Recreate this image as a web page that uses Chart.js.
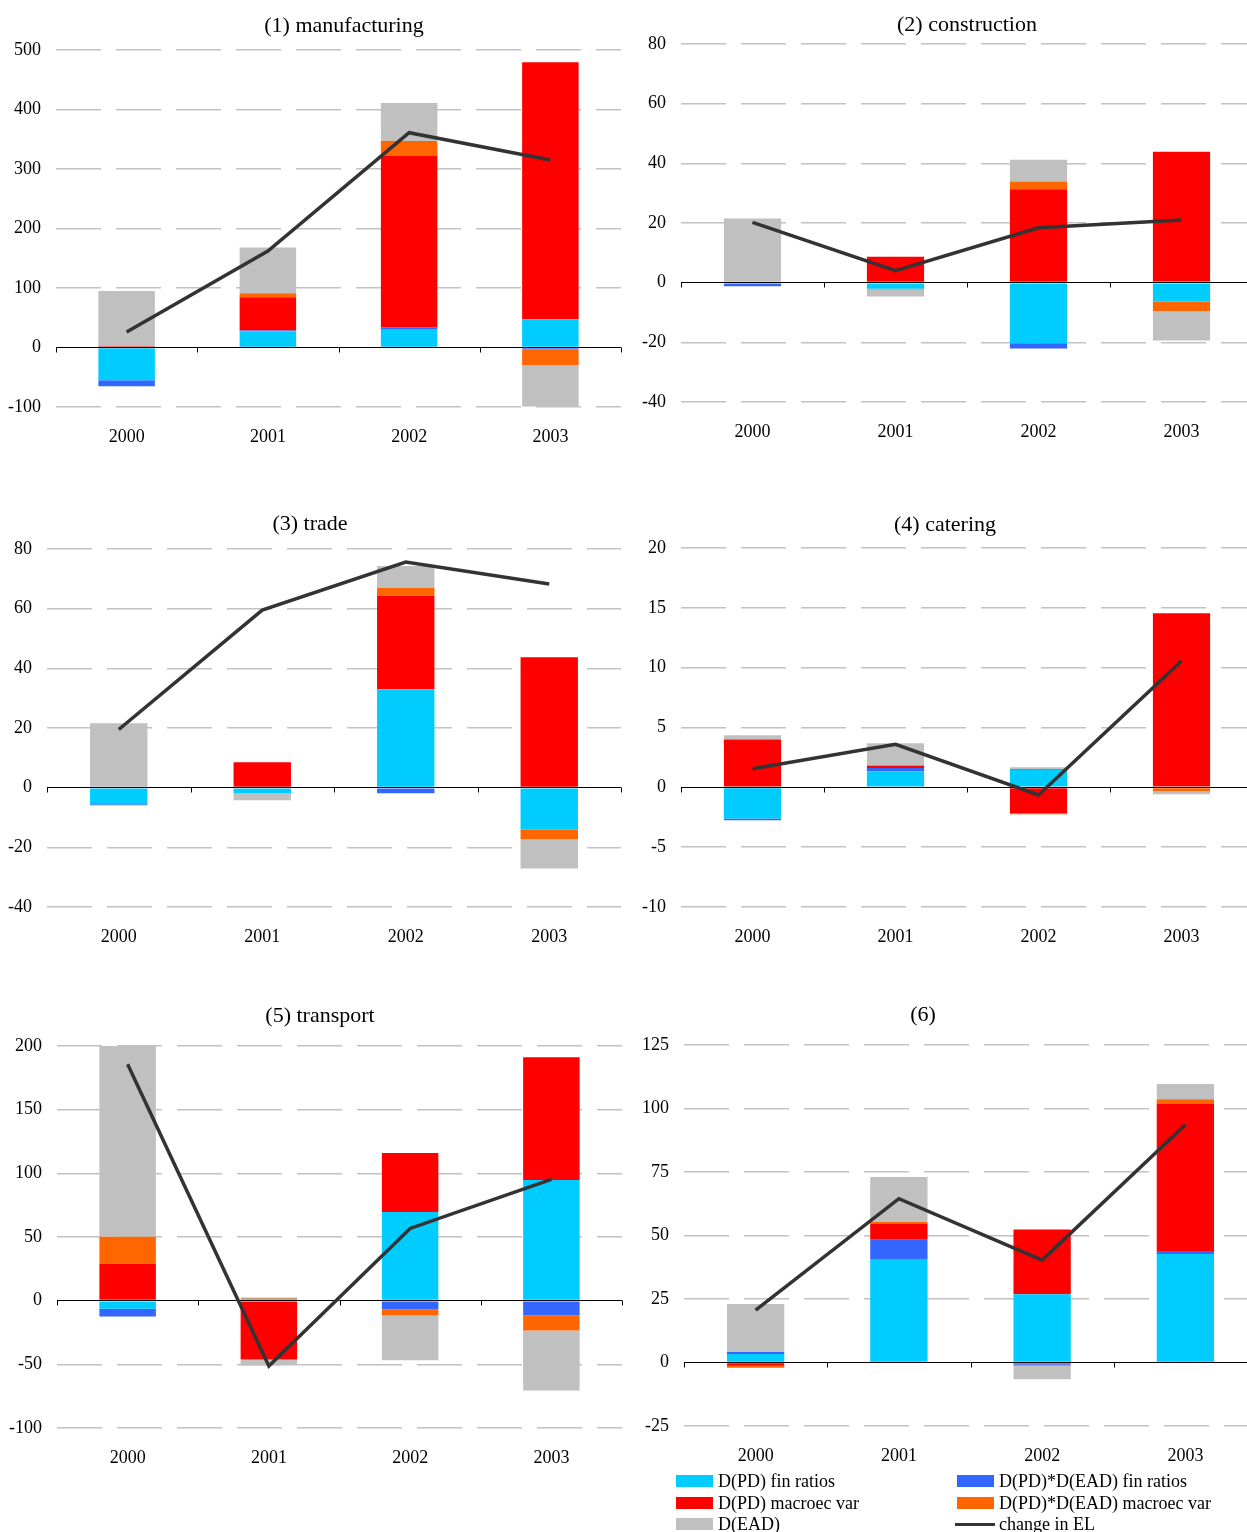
<!DOCTYPE html>
<html>
<head>
<meta charset="utf-8">
<title>Decomposition of the change in expected loss by sector</title>
<script src="https://cdn.jsdelivr.net/npm/chart.js@4.4.1/dist/chart.umd.min.js"></script>
<style>
  html, body { margin: 0; padding: 0; background: #fff; }
  body { position: relative; width: 1247px; height: 1532px; overflow: hidden;
         font-family: "Liberation Serif", "DejaVu Serif", serif; color: #000; }
  canvas { position: absolute; }
  .title { position: absolute; font-size: 22px; line-height: 1; white-space: nowrap;
           transform: translate(-50%, -50%); }
  .legend-item { position: absolute; font-size: 18px; line-height: 1; white-space: nowrap;
                 transform: translateY(-50%); }
  .swatch { position: absolute; }
</style>
</head>
<body>
<script>
// Categories and series
const years = ['2000', '2001', '2002', '2003'];
const seriesNames = ['D(PD) fin ratios', 'D(PD)*D(EAD) fin ratios', 'D(PD) macroec var',
                     'D(PD)*D(EAD) macroec var', 'D(EAD)'];
const lineName = 'change in EL';

// (1) manufacturing
const mfgFinPD   = [-55, 27.5, 31, 47.6];
const mfgFinX    = [-10, 1, 3, -3];
const mfgMacroPD = [2, 56, 288, 432];
const mfgMacroX  = [0, 6.5, 25, -27];
const mfgEAD     = [93, 77, 64, -69];
const mfgEL      = [26, 162, 361, 315];

// (2) construction
const conFinPD   = [-0.3, -2, -20.3, -6.3];
const conFinX    = [-0.9, 0, -1.8, 0.6];
const conMacroPD = [0.3, 8.7, 31.3, 43.3];
const conMacroX  = [0, -0.3, 2.6, -3.3];
const conEAD     = [21.2, -2.3, 7.3, -9.8];
const conEL      = [20.2, 4.0, 18.4, 21];

// (3) trade
const trdFinPD   = [-5.6, -1.9, 33, -14.1];
const trdFinX    = [-0.3, 0, -1.9, 0];
const trdMacroPD = [0.3, 8.5, 31.3, 43.7];
const trdMacroX  = [0, 0, 2.7, -3.2];
const trdEAD     = [21.3, -2.35, 7.3, -9.8];
const trdEL      = [19.5, 59.5, 75.6, 68.3];

// (4) catering
const catFinPD   = [-2.6, 1.34, 1.45, 0];
const catFinX    = [-0.15, 0.28, 0.07, 0];
const catMacroPD = [4.0, 0.17, -2.17, 14.54];
const catMacroX  = [0, 0.06, -0.08, -0.33];
const catEAD     = [0.35, 1.84, 0.15, -0.25];
const catEL      = [1.56, 3.6, -0.64, 10.56];

// (5) transport
const trpFinPD   = [-6.3, 1.5, 69.7, 94.8];
const trpFinX    = [-6.2, 0, -7, -11.7];
const trpMacroPD = [29, -46.2, 46.2, 96.3];
const trpMacroX  = [21.1, 0.8, -4.7, -11.8];
const trpEAD     = [150, -4.7, -35, -47];
const trpEL      = [185.6, -51.4, 56.7, 95.3];

// (6)
const othFinPD   = [3.3, 40.7, 26.9, 42.7];
const othFinX    = [0.8, 7.6, -0.9, 1.2];
const othMacroPD = [-1.3, 6.2, 25.5, 57.9];
const othMacroX  = [-0.8, 0.8, -0.4, 1.8];
const othEAD     = [18.9, 17.7, -5.3, 6];
const othEL      = [20.6, 64.5, 40.3, 93.6];

// Value-axis ranges [min, max, step]
const mfgAxis = [-100, 500, 100];
const conAxis = [-40, 80, 20];
const trdAxis = [-40, 80, 20];
const catAxis = [-10, 20, 5];
const trpAxis = [-100, 200, 50];
const othAxis = [-25, 125, 25];

// Styling
const seriesColors = ['#00CCFF', '#3366FF', '#FF0000', '#FF6600', '#C0C0C0'];
const lineColor = '#333333';
const gridColor = '#C2C2C2';
const fontFamily = '"Liberation Serif", "DejaVu Serif", serif';

// Panel definitions: title, data, axis and plot-area box [left, top, right, bottom]
const panels = [
  { title: '(1) manufacturing', bars: [mfgFinPD, mfgFinX, mfgMacroPD, mfgMacroX, mfgEAD], el: mfgEL,
    axis: mfgAxis, area: [56, 50, 621, 407], titlePos: [344, 25] },
  { title: '(2) construction', bars: [conFinPD, conFinX, conMacroPD, conMacroX, conEAD], el: conEL,
    axis: conAxis, area: [681, 44, 1253, 402], titlePos: [967, 24] },
  { title: '(3) trade', bars: [trdFinPD, trdFinX, trdMacroPD, trdMacroX, trdEAD], el: trdEL,
    axis: trdAxis, area: [47, 549, 621, 907], titlePos: [310, 523] },
  { title: '(4) catering', bars: [catFinPD, catFinX, catMacroPD, catMacroX, catEAD], el: catEL,
    axis: catAxis, area: [681, 548, 1253, 907], titlePos: [945, 524] },
  { title: '(5) transport', bars: [trpFinPD, trpFinX, trpMacroPD, trpMacroX, trpEAD], el: trpEL,
    axis: trpAxis, area: [57, 1046, 622, 1428], titlePos: [320, 1015] },
  { title: '(6)', bars: [othFinPD, othFinX, othMacroPD, othMacroX, othEAD], el: othEL,
    axis: othAxis, area: [684, 1045, 1257, 1426], titlePos: [923, 1014] }
];

// Solid zero axis with short tick marks at category boundaries, drawn above the bars
const zeroAxis = {
  id: 'zeroAxis',
  beforeDatasetDraw(chart, args) {
    if (args.meta.type !== 'line') return;
    const { ctx, chartArea: a, scales: { x, y } } = chart;
    const y0 = Math.floor(y.getPixelForValue(0)) + 0.5;
    ctx.save();
    ctx.strokeStyle = '#000';
    ctx.lineWidth = 1;
    ctx.beginPath();
    ctx.moveTo(a.left, y0);
    ctx.lineTo(a.right, y0);
    const n = x.ticks.length;
    for (let i = 0; i <= n; i++) {
      const px = Math.round(a.left + (a.right - a.left) * i / n) + 0.5;
      ctx.moveTo(px, y0);
      ctx.lineTo(px, y0 + 5);
    }
    ctx.stroke();
    ctx.restore();
  }
};

const PAD_L = 60, PAD_T = 30, PAD_R = 6, AXIS_H = 50;

panels.forEach(p => {
  const [left, top, right, bottom] = p.area;
  const w = PAD_L + (right - left) + PAD_R;
  const h = PAD_T + (bottom - top) + AXIS_H;
  const cv = document.createElement('canvas');
  cv.width = w; cv.height = h;
  cv.style.left = (left - PAD_L) + 'px';
  cv.style.top = (top - PAD_T) + 'px';
  cv.style.width = w + 'px';
  cv.style.height = h + 'px';
  document.body.appendChild(cv);

  const t = document.createElement('div');
  t.className = 'title';
  t.textContent = p.title;
  t.style.left = p.titlePos[0] + 'px';
  t.style.top = p.titlePos[1] + 'px';
  document.body.appendChild(t);

  const datasets = [{
    type: 'line', label: lineName, data: p.el, stack: 'el', order: 0,
    borderColor: lineColor, backgroundColor: lineColor, borderWidth: 3.5,
    pointRadius: 0, pointHoverRadius: 0, tension: 0, fill: false
  }];
  p.bars.forEach((vals, i) => datasets.push({
    type: 'bar', label: seriesNames[i], data: vals, stack: 'bars', order: 1,
    backgroundColor: seriesColors[i], borderWidth: 0,
    categoryPercentage: 1.0, barPercentage: 0.4
  }));

  new Chart(cv, {
    type: 'bar',
    data: { labels: years, datasets },
    options: {
      responsive: false,
      animation: false,
      devicePixelRatio: 1,
      events: [],
      layout: { padding: { left: 0, top: PAD_T, right: PAD_R, bottom: 0 } },
      plugins: { legend: { display: false }, title: { display: false }, tooltip: { enabled: false } },
      scales: {
        x: {
          stacked: true,
          offset: true,
          grid: { display: false, drawTicks: false },
          border: { display: false },
          ticks: { color: '#000', font: { family: fontFamily, size: 18 }, padding: 19, maxRotation: 0 },
          afterFit: s => { s.height = AXIS_H; }
        },
        y: {
          stacked: true,
          min: p.axis[0], max: p.axis[1],
          grid: {
            drawTicks: false,
            lineWidth: 1.6,
            color: c => (c.tick && c.tick.value === 0) ? 'rgba(0,0,0,0)' : gridColor
          },
          border: { display: false, dash: [45, 15] },
          ticks: { stepSize: p.axis[2], color: '#000', padding: 15,
                   font: { family: fontFamily, size: 18 } },
          afterFit: s => { s.width = PAD_L; }
        }
      }
    },
    plugins: [zeroAxis]
  });
});

// Legend: two columns, three rows
const legendEntries = [
  [seriesNames[0], seriesColors[0], 'box'], [seriesNames[1], seriesColors[1], 'box'],
  [seriesNames[2], seriesColors[2], 'box'], [seriesNames[3], seriesColors[3], 'box'],
  [seriesNames[4], seriesColors[4], 'box'], [lineName, lineColor, 'line']
];
const legendCols = [676, 957];
const legendRows = [1481, 1503, 1524];
legendEntries.forEach((e, i) => {
  const cx = legendCols[i % 2], cy = legendRows[Math.floor(i / 2)];
  const sw = document.createElement('div');
  sw.className = 'swatch';
  sw.style.background = e[1];
  if (e[2] === 'box') {
    sw.style.left = cx + 'px'; sw.style.top = (cy - 6) + 'px';
    sw.style.width = '37px'; sw.style.height = '12px';
  } else {
    sw.style.left = (cx - 2) + 'px'; sw.style.top = (cy - 1.5) + 'px';
    sw.style.width = '40px'; sw.style.height = '3px';
  }
  document.body.appendChild(sw);
  const lb = document.createElement('div');
  lb.className = 'legend-item';
  lb.textContent = e[0];
  lb.style.left = (cx + 42) + 'px';
  lb.style.top = cy + 'px';
  document.body.appendChild(lb);
});
</script>
</body>
</html>
